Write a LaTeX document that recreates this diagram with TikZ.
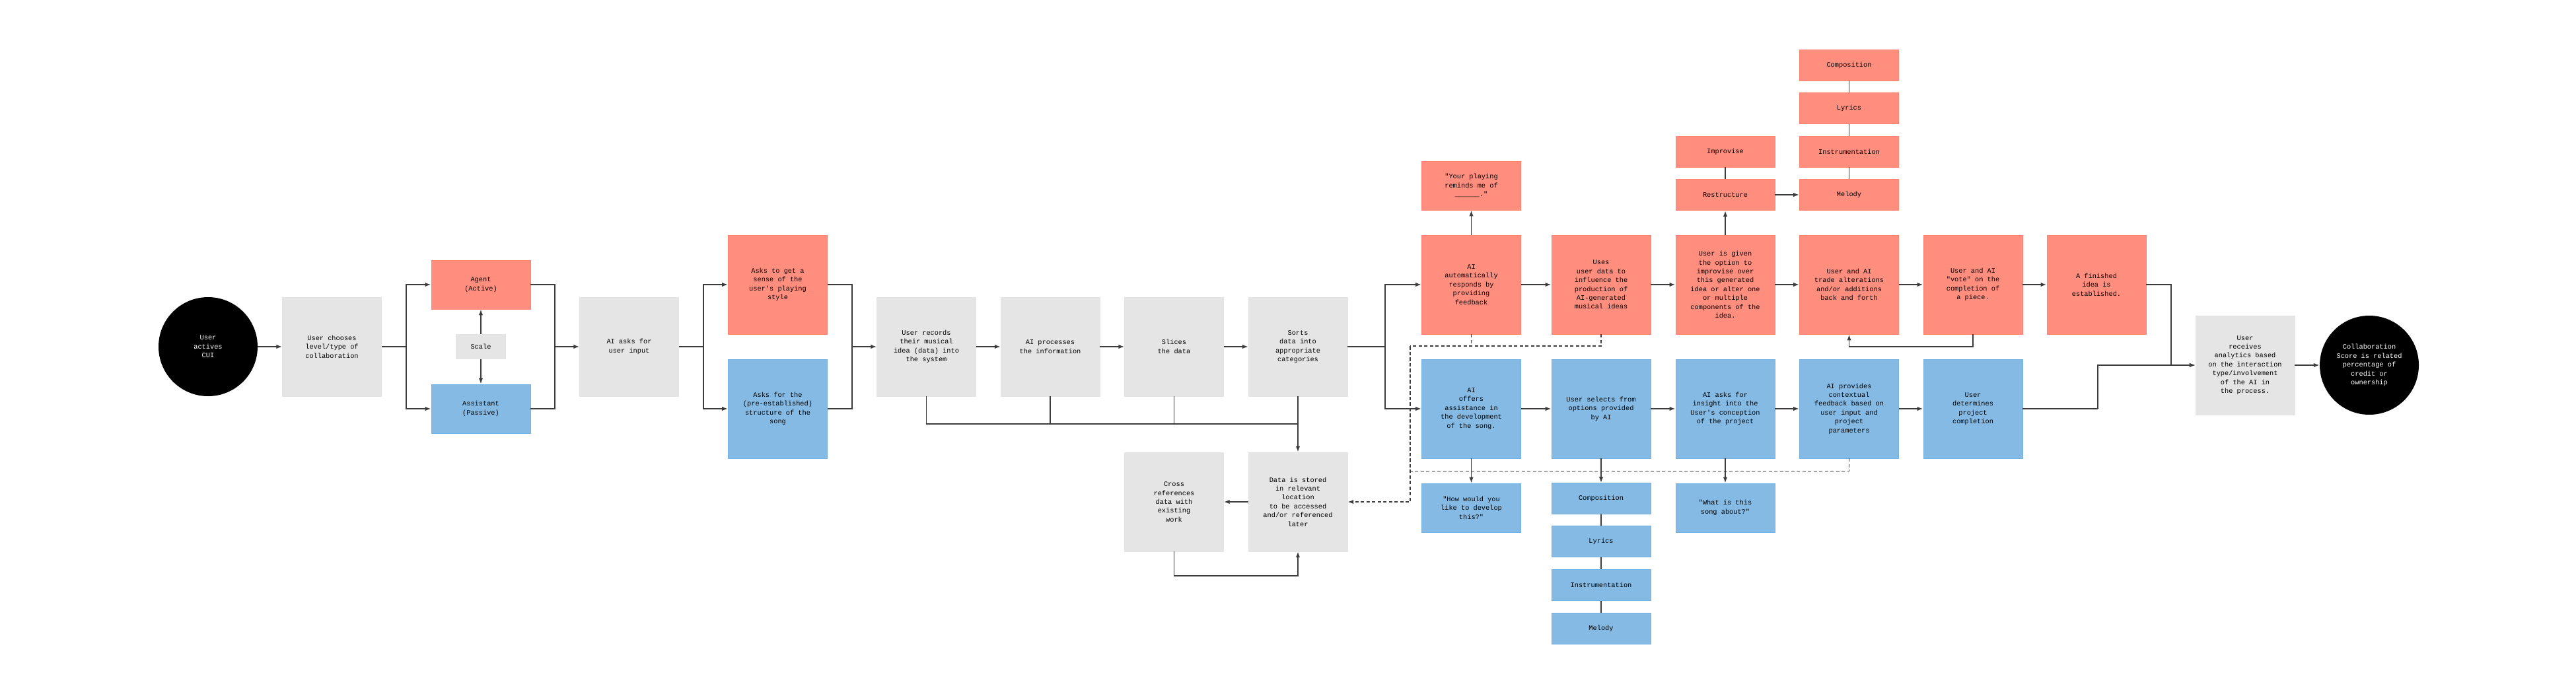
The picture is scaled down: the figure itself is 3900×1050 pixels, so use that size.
\documentclass[tikz,border=0pt]{standalone}
\usepackage{fontspec}
\setmonofont{Liberation Mono}
\usetikzlibrary{arrows.meta}
\definecolor{redc}{HTML}{FF8E7F}
\definecolor{redb}{HTML}{FF8272}
\definecolor{bluec}{HTML}{84BAE4}
\definecolor{blueb}{HTML}{76B2E2}
\definecolor{grayc}{HTML}{E5E5E5}
\definecolor{linec}{HTML}{3C3C3C}
\definecolor{txtc}{HTML}{000000}
\tikzset{
  box/.style={rectangle, minimum width=150pt, align=center, inner sep=0pt,
    font=\ttfamily\fontsize{10.3}{13.4}\selectfont, text=txtc},
  graybox/.style={box, fill=grayc, draw=grayc},
  redbox/.style={box, fill=redc, draw=redb, line width=0.8pt},
  bluebox/.style={box, fill=bluec, draw=blueb, line width=0.8pt},
  tall/.style={minimum height=150pt},
  mid/.style={minimum height=74pt},
  small/.style={minimum height=47pt},
  endcircle/.style={circle, minimum size=150pt, fill=black, inner sep=0pt, align=center,
    font=\ttfamily\fontsize{10.3}{13.4}\selectfont, text=white},
  conn/.style={draw=linec, line width=1.8pt},
  arr/.style={conn, -{Latex[length=9pt,width=6.5pt]}},
  dsh/.style={conn, dash pattern=on 5pt off 3.5pt},
  darr/.style={dsh, -{Latex[length=9pt,width=6.5pt]}}
}
\begin{document}
\begin{tikzpicture}[x=1pt,y=-1pt]
\fill[white] (0,0) rectangle (3900,1050);
\useasboundingbox (0,0) rectangle (3900,1050);

% left part
\node[endcircle] (cui) at (315,525) {User\\actives\\CUI};
\node[graybox,tall] (choose) at (502.5,525) {User chooses\\level/type of\\collaboration};
\node[redbox,mid] (agent) at (728,431) {Agent\\(Active)};
\node[graybox,minimum width=75pt,minimum height=37pt] (scale) at (728,525) {Scale};
\node[bluebox,mid] (assist) at (728,619) {Assistant\\(Passive)};
\node[graybox,tall] (askai) at (952.5,525) {AI asks for\\user input};
\node[redbox,tall] (askget) at (1177.5,431) {Asks to get a\\sense of the\\user's playing\\style};
\node[bluebox,tall] (askfor) at (1177.5,619) {Asks for the\\(pre-established)\\structure of the\\song};
\node[graybox,tall] (rec) at (1402.5,525) {User records\\their musical\\idea (data) into\\the system};
\node[graybox,tall] (proc) at (1590,525) {AI processes\\the information};
\node[graybox,tall] (slice) at (1777.5,525) {Slices\\the data};
\node[graybox,tall] (sorts) at (1965,525) {Sorts\\data into\\appropriate\\categories};
\node[graybox,tall] (cross) at (1777.5,760) {Cross\\references\\data with\\existing\\work};
\node[graybox,tall] (stored) at (1965,760) {Data is stored\\in relevant\\location\\to be accessed\\and/or referenced\\later};

% red row
\node[redbox,tall] (auto) at (2227.5,431) {AI\\automatically\\responds by\\providing\\feedback};
\node[redbox,mid] (your) at (2227.5,281) {"Your playing\\reminds me of\\\_\_\_\_\_\_."};
\node[redbox,tall] (uses) at (2424,431) {Uses\\user data to\\influence the\\production of\\AI-generated\\musical ideas};
\node[redbox,tall] (given) at (2612,431) {User is given\\the option to\\improvise over\\this generated\\idea or alter one\\or multiple\\components of the\\idea.};
\node[redbox,tall] (trade) at (2799.5,431) {User and AI\\trade alterations\\and/or additions\\back and forth};
\node[redbox,tall] (vote) at (2987,431) {User and AI\\"vote" on the\\completion of\\a piece.};
\node[redbox,tall] (fin) at (3174,431) {A finished\\idea is\\established.};
\node[redbox,small] (improv) at (2612,229.5) {Improvise};
\node[redbox,small] (restr) at (2612,295) {Restructure};
\node[redbox,small] (rcomp) at (2799.5,98.5) {Composition};
\node[redbox,small] (rlyr) at (2799.5,164) {Lyrics};
\node[redbox,small] (rinst) at (2799.5,229.5) {Instrumentation};
\node[redbox,small] (rmel) at (2799.5,295) {Melody};

% blue row
\node[bluebox,tall] (offers) at (2227.5,619) {AI\\offers\\assistance in\\the development\\of the song.};
\node[bluebox,tall] (selects) at (2424,619) {User selects from\\options provided\\by AI};
\node[bluebox,tall] (insight) at (2612,619) {AI asks for\\insight into the\\User's conception\\of the project};
\node[bluebox,tall] (provides) at (2799.5,619) {AI provides\\contextual\\feedback based on\\user input and\\project\\parameters};
\node[bluebox,tall] (determ) at (2987,619) {User\\determines\\project\\completion};
\node[bluebox,mid] (how) at (2227.5,769) {"How would you\\like to develop\\this?"};
\node[bluebox,small] (bcomp) at (2424,755) {Composition};
\node[bluebox,small] (blyr) at (2424,820) {Lyrics};
\node[bluebox,small] (binst) at (2424,886) {Instrumentation};
\node[bluebox,small] (bmel) at (2424,951.5) {Melody};
\node[bluebox,mid] (what) at (2612,769) {"What is this\\song about?"};

% end
\node[graybox,tall] (recv) at (3399,553) {User\\receives\\analytics based\\on the interaction\\type/involvement\\of the AI in\\the process.};
\node[endcircle] (score) at (3587,553) {Collaboration\\Score is related\\percentage of\\credit or\\ownership};

% helper coordinates
\coordinate (b1) at (614.6,525);
\coordinate (b2) at (840,525);
\coordinate (b3) at (1065,525);
\coordinate (b4) at (1290,525);
\coordinate (b5) at (2097,525);
\coordinate (m1) at (1965,642);
\coordinate (lp) at (1777.5,872);
\coordinate (vl) at (2987,525);
\coordinate (d1) at (2135,524);
\coordinate (d2) at (2135,760);
\coordinate (f1) at (3287,431);
\coordinate (f2) at (3287,553);
\coordinate (g1) at (3175.6,619);

% left connectors
\draw[arr] (cui) -- (choose);
\draw[conn] (choose.east) -- (b1);
\draw[arr] (b1) |- (agent.west);
\draw[arr] (b1) |- (assist.west);
\draw[conn] (agent.east) -| (b2);
\draw[conn] (assist.east) -| (b2);
\draw[arr] (b2) -- (askai.west);
\draw[arr] (scale.north) -- (agent.south);
\draw[arr] (scale.south) -- (assist.north);
\draw[conn] (askai.east) -- (b3);
\draw[arr] (b3) |- (askget.west);
\draw[arr] (b3) |- (askfor.west);
\draw[conn] (askget.east) -| (b4);
\draw[conn] (askfor.east) -| (b4);
\draw[arr] (b4) -- (rec.west);
\draw[arr] (rec) -- (proc);
\draw[arr] (proc) -- (slice);
\draw[arr] (slice) -- (sorts);
\draw[conn] (rec.south) |- (m1);
\draw[conn] (proc.south) -- (proc.south |- m1);
\draw[conn] (slice.south) -- (slice.south |- m1);
\draw[arr] (sorts.south) -- (stored.north);
\draw[arr] (stored.west) -- (cross.east);
\draw[arr] (cross.south) |- (lp) -| (stored.south);

% branch
\draw[conn] (sorts.east) -- (b5);
\draw[arr] (b5) |- (auto.west);
\draw[arr] (b5) |- (offers.west);

% red row connectors
\draw[arr] (auto.north) -- (your.south);
\draw[arr] (auto) -- (uses);
\draw[arr] (uses) -- (given);
\draw[arr] (given) -- (trade);
\draw[arr] (trade) -- (vote);
\draw[arr] (vote) -- (fin);
\draw[arr] (given.north) -- (restr.south);
\draw[conn] (improv) -- (restr);
\draw[arr] (restr) -- (rmel);
\draw[conn] (rcomp) -- (rlyr);
\draw[conn] (rlyr) -- (rinst);
\draw[conn] (rinst) -- (rmel);
\draw[arr] (vote.south) -- (vl) -| (trade.south);

% blue row connectors
\draw[arr] (offers) -- (selects);
\draw[arr] (selects) -- (insight);
\draw[arr] (insight) -- (provides);
\draw[arr] (provides) -- (determ);
\draw[arr] (offers.south) -- (how.north);
\draw[arr] (selects.south) -- (bcomp.north);
\draw[arr] (insight.south) -- (what.north);
\draw[conn] (bcomp) -- (blyr);
\draw[conn] (blyr) -- (binst);
\draw[conn] (binst) -- (bmel);

% dashed feedback
\draw[dsh] (auto.south) -- (auto.south |- d1);
\draw[dsh] (uses.south) |- (d1);
\draw[darr] (d1) -- (d2) -- (stored.east);
\draw[dsh] (provides.south) -- ++(0,19) -| (d1);

% end connectors
\draw[conn] (fin.east) -- (f1) -- (f2);
\draw[arr] (f2) -- (recv.west);
\draw[conn] (determ.east) -- (g1);
\draw[arr] (g1) |- (recv.west);
\draw[arr] (recv) -- (score);
\end{tikzpicture}
\end{document}
